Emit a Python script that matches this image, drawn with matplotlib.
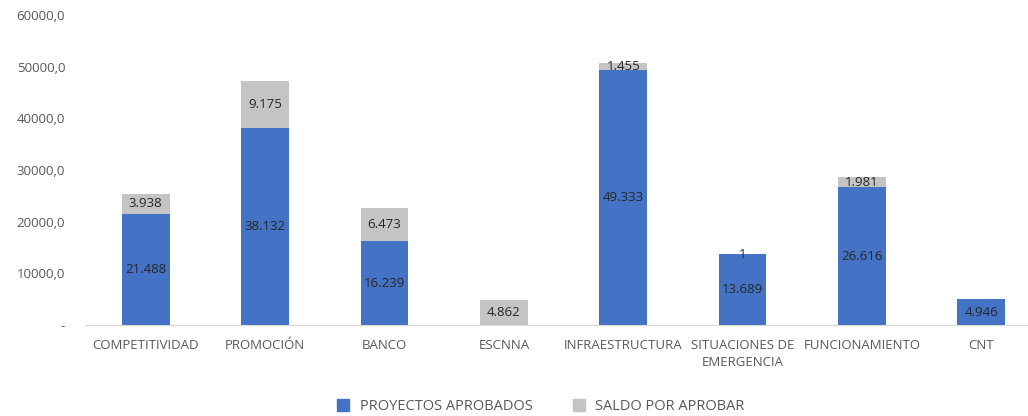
import numpy as np
import matplotlib
matplotlib.use('Agg')
import matplotlib.pyplot as plt
from matplotlib.lines import Line2D

# datos
categorias = ['COMPETITIVIDAD', 'PROMOCIÓN', 'BANCO', 'ESCNNA', 'INFRAESTRUCTURA',
              'SITUACIONES DE\nEMERGENCIA', 'FUNCIONAMIENTO', 'CNT']
aprobados = [21488, 38132, 16239, 0, 49333, 13689, 26616, 4946]
saldo = [3938, 9175, 6473, 4862, 1455, 1, 1981, 0]
yticks = [0, 10000, 20000, 30000, 40000, 50000, 60000]

AZUL = '#4472c4'
GRIS = '#c4c4c4'
TXT = '#595959'

plt.rcParams['font.family'] = ['Open Sans', 'DejaVu Sans']

fig = plt.figure(figsize=(10.28, 4.16), dpi=100)
ax = fig.add_axes([86 / 1028, 1 - 325 / 416, 955 / 1028, 310 / 416])

x = np.arange(len(categorias))
w = 0.4
b1 = ax.bar(x, aprobados, w, color=AZUL, label='PROYECTOS APROBADOS')
b2 = ax.bar(x, saldo, w, bottom=aprobados, color=GRIS, label='SALDO POR APROBAR')


def fmt(v):
    return f'{v:,}'.replace(',', '.')


ax.bar_label(b1, labels=[fmt(v) if v else '' for v in aprobados],
             label_type='center', fontsize=9.5, color='#262626')
ax.bar_label(b2, labels=[fmt(v) if v else '' for v in saldo],
             label_type='center', fontsize=9.5, color='#262626')

ax.set_xlim(-0.5, len(categorias) - 0.5)
ax.set_ylim(0, 60000)
ax.set_yticks(yticks)
ax.set_yticklabels(['-'] + [f'{v},0' for v in yticks[1:]])
ax.set_xticks(x)
ax.set_xticklabels(categorias, linespacing=1.45)
ax.tick_params(length=0, labelsize=9.5, colors=TXT)
ax.tick_params(axis='x', pad=10)
ax.tick_params(axis='y', pad=15)

for s in ['top', 'right', 'left']:
    ax.spines[s].set_visible(False)
ax.spines['bottom'].set_color('#d9d9d9')

handles = [Line2D([], [], marker='s', ls='', markersize=8, color=AZUL),
           Line2D([], [], marker='s', ls='', markersize=8, color=GRIS)]
fig.legend(handles, ['PROYECTOS APROBADOS', 'SALDO POR APROBAR'],
           loc='center', bbox_to_anchor=(0.522, 1 - 407 / 416), ncol=2, frameon=False,
           fontsize=10.5, labelcolor=TXT, handletextpad=0.1, columnspacing=2.2)

fig.savefig('out.png', dpi=100)
